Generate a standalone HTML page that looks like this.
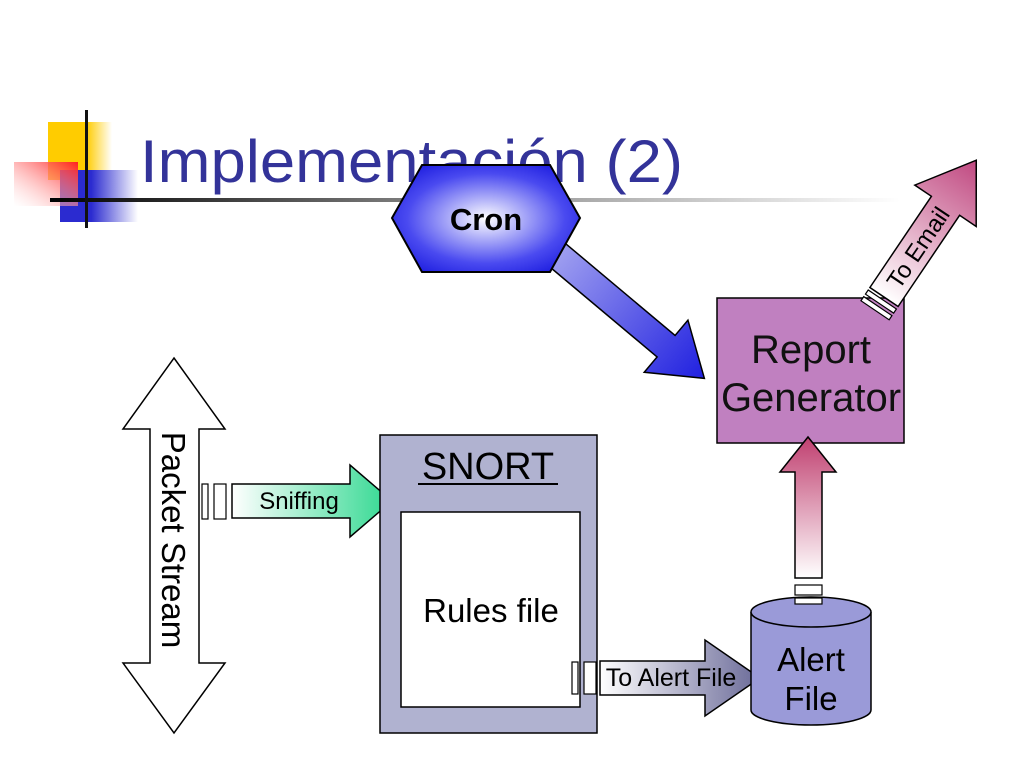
<!DOCTYPE html>
<html><head><meta charset="utf-8"><style>
html,body{margin:0;padding:0;background:#fff;width:1024px;height:768px;overflow:hidden}
svg{display:block}
text{font-family:"Liberation Sans",sans-serif}
</style></head><body>
<svg width="1024" height="768" viewBox="0 0 1024 768">
<defs>
<linearGradient id="red" x1="1" y1="0" x2="0" y2="1"><stop offset="0" stop-color="#ff2020"/><stop offset="1" stop-color="#fff" stop-opacity="0.3"/></linearGradient>
<linearGradient id="blueSq" x1="0" y1="0" x2="1" y2="0"><stop offset="0.4" stop-color="#2b2bd0"/><stop offset="1" stop-color="#fff"/></linearGradient>
<linearGradient id="yel" x1="0" y1="0" x2="1" y2="0"><stop offset="0.6" stop-color="#ffcc00"/><stop offset="1" stop-color="#fff"/></linearGradient>
<linearGradient id="line" x1="0" y1="0" x2="1" y2="0"><stop offset="0" stop-color="#000"/><stop offset="0.4" stop-color="#777"/><stop offset="1" stop-color="#fff"/></linearGradient>
<radialGradient id="hex" cx="0.5" cy="0.5" r="0.6"><stop offset="0" stop-color="#ffffff"/><stop offset="0.7" stop-color="#4a4af0"/><stop offset="1" stop-color="#2020e0"/></radialGradient>
<linearGradient id="barrow" x1="0" y1="0" x2="1" y2="0"><stop offset="0" stop-color="#a0a0f0"/><stop offset="1" stop-color="#2020e0"/></linearGradient>
<linearGradient id="green" x1="0" y1="0" x2="1" y2="0"><stop offset="0" stop-color="#fff"/><stop offset="1" stop-color="#30d890"/></linearGradient>
<linearGradient id="gray" x1="0" y1="0" x2="1" y2="0"><stop offset="0" stop-color="#fff"/><stop offset="1" stop-color="#6a6a98"/></linearGradient>
<linearGradient id="pinkup" x1="0" y1="1" x2="0" y2="0"><stop offset="0" stop-color="#fff"/><stop offset="1" stop-color="#c04070"/></linearGradient>
<linearGradient id="pinkemail" x1="0" y1="0" x2="1" y2="0"><stop offset="0" stop-color="#fff"/><stop offset="1" stop-color="#c04880"/></linearGradient>
</defs>

<rect x="48" y="122" width="64" height="58" fill="url(#yel)"/>
<rect x="60" y="170" width="78" height="52" fill="url(#blueSq)"/>
<rect x="14" y="162" width="64" height="44" fill="url(#red)"/>
<rect x="50" y="198" width="850" height="4" fill="url(#line)"/>
<rect x="85" y="110" width="3" height="118" fill="#111"/>

<text x="140" y="182" font-size="60" fill="#333399" textLength="543" lengthAdjust="spacingAndGlyphs">Implementación (2)</text>

<g transform="translate(555,253) rotate(40)">
<polygon points="0,-14 145,-14 145,-34 195,0 145,34 145,14 0,14" fill="url(#barrow)" stroke="#000" stroke-width="1.5"/>
</g>

<polygon points="392,218 422,165 550,165 580,218 550,272 422,272" fill="url(#hex)" stroke="#000" stroke-width="2"/>
<text x="486" y="230" font-size="31" font-weight="bold" text-anchor="middle">Cron</text>

<rect x="717" y="298" width="187" height="145" fill="#c080c0" stroke="#000" stroke-width="1.5"/>
<text x="811" y="363" font-size="40" text-anchor="middle" fill="#111">Report</text>
<text x="811" y="411" font-size="40" text-anchor="middle" fill="#111">Generator</text>

<g transform="translate(884,297) rotate(-56)">
<polygon points="0,-17 110,-17 110,-37 165,0 110,37 110,17 0,17" fill="url(#pinkemail)" stroke="#000" stroke-width="1.5"/>
<rect x="-8" y="-17" width="5" height="34" fill="#fff" stroke="#000" stroke-width="1.2"/>
<rect x="-16" y="-17" width="5" height="34" fill="#fff" stroke="#000" stroke-width="1.2"/>
<text x="60" y="9" font-size="24" text-anchor="middle">To Email</text>
</g>

<polygon points="174,358 225,429 199,429 199,663 225,663 174,733 123,663 150,663 150,429 123,429" fill="#fff" stroke="#000" stroke-width="1.5"/>
<text transform="translate(162,540) rotate(90)" font-size="33" text-anchor="middle">Packet Stream</text>

<rect x="202" y="484" width="6" height="35" fill="#fff" stroke="#000" stroke-width="1.2"/>
<rect x="214" y="484" width="12" height="35" fill="#fff" stroke="#000" stroke-width="1.2"/>
<polygon points="232,484 350,484 350,465 392,501 350,537 350,518 232,518" fill="url(#green)" stroke="#000" stroke-width="1.5"/>
<text x="299" y="509" font-size="24" text-anchor="middle">Sniffing</text>

<rect x="380" y="435" width="217" height="298" fill="#b0b2d0" stroke="#000" stroke-width="1.5"/>
<text x="488" y="479" font-size="38" text-anchor="middle">SNORT</text>
<rect x="418" y="483" width="140" height="2" fill="#000"/>
<rect x="401" y="512" width="179" height="195" fill="#fff" stroke="#000" stroke-width="1.5"/>
<text x="491" y="622" font-size="33" text-anchor="middle">Rules file</text>

<rect x="572" y="662" width="6" height="32" fill="#fff" stroke="#000" stroke-width="1.2"/>
<rect x="584" y="662" width="12" height="32" fill="#fff" stroke="#000" stroke-width="1.2"/>
<polygon points="600,661 705,661 705,640 760,678 705,716 705,695 600,695" fill="url(#gray)" stroke="#000" stroke-width="1.5"/>
<text x="671" y="686" font-size="25" text-anchor="middle">To Alert File</text>

<path d="M751,612 L751,710 A60,15 0 0 0 871,710 L871,612" fill="#9a9ad8" stroke="#000" stroke-width="1.5"/>
<ellipse cx="811" cy="612" rx="60" ry="15" fill="#9a9ad8" stroke="#000" stroke-width="1.5"/>
<text x="811" y="671" font-size="33" text-anchor="middle">Alert</text>
<text x="811" y="710" font-size="33" text-anchor="middle">File</text>

<polygon points="795,578 795,472 780,472 808,437 836,472 822,472 822,578" fill="url(#pinkup)" stroke="#000" stroke-width="1.5"/>
<rect x="795" y="585" width="27" height="10" fill="#fff" stroke="#000" stroke-width="1.2"/>
<rect x="795" y="598" width="27" height="6" fill="#fff" stroke="#000" stroke-width="1.2"/>
</svg>
</body></html>
